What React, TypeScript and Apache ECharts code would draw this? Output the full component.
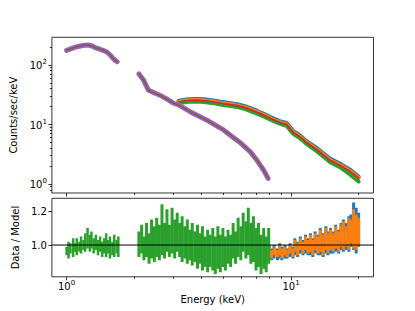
import React, { useEffect, useRef } from 'react';
import * as echarts from 'echarts';

// ---------- axis ranges & ticks ----------
const X_MIN = 0.86;
const X_MAX = 23.3;
const Y_MIN = 0.706;
const Y_MAX = 291;
const R_MIN = 0.813;
const R_MAX = 1.275;

const xMajorTicks = [1, 10];
const xMinorTicks = [2, 3, 4, 5, 6, 7, 8, 9, 20];
const yMajorTicks = [1, 10, 100];
const yMinorTicks = [0.8, 0.9, 2, 3, 4, 5, 6, 7, 8, 9, 20, 30, 40, 50, 60, 70, 80, 90, 200];
const rTicks = [1.0, 1.2];

// ---------- top panel: spectra ----------
// low-energy instrument (purple data, brown model)
const purpleLoE = [1.0, 1.05, 1.1, 1.15, 1.2, 1.25, 1.3, 1.35, 1.4, 1.45, 1.5, 1.55, 1.6, 1.65, 1.68];
const purpleLo = [176, 188, 200, 208, 214, 216, 208, 193, 185, 176, 168, 152, 132, 118, 113];
const purpleHiE = [2.1, 2.2, 2.31, 2.48, 2.65, 2.84, 3.0, 3.15, 3.55, 4.2, 5.0, 5.94, 6.57, 7.05, 7.54, 7.9];
const purpleHi = [70.7, 56, 38, 33.4, 30, 25.8, 22.7, 21.3, 16.4, 11.9, 8.1, 4.95, 3.5, 2.5, 1.72, 1.24];

// high-energy instruments (blue, orange, green data, red model)
const energiesHi = [3.15, 3.3, 3.5, 3.8, 4.1, 4.5, 4.85, 5.3, 5.75, 6.35, 7.05, 7.6, 8.1, 8.9, 9.55, 10.0, 10.25, 10.8, 11.2, 11.6, 13.1, 14.9, 16.75, 18.3, 20.0];
const blueSpec = [24.9, 25.8, 26.5, 26.8, 26.4, 25.3, 24.0, 22.9, 21.9, 19.8, 17.0, 15.0, 13.3, 11.4, 10.6, 8.6, 7.7, 6.8, 6.1, 5.4, 3.95, 2.67, 2.14, 1.74, 1.33];
const orangeSpec = [23.9, 24.8, 25.5, 25.7, 25.3, 24.3, 23.0, 22.0, 20.9, 18.9, 16.2, 14.4, 12.7, 10.9, 10.1, 8.2, 7.3, 6.5, 5.85, 5.15, 3.75, 2.53, 2.02, 1.64, 1.27];
const greenSpec = [22.4, 23.3, 24.0, 24.2, 23.8, 22.8, 21.6, 20.6, 19.7, 17.8, 15.2, 13.5, 12.0, 10.3, 9.5, 7.7, 6.9, 6.1, 5.5, 4.85, 3.5, 2.35, 1.85, 1.45, 1.1];
const redModel = [23.6, 24.5, 25.2, 25.4, 25.0, 24.0, 22.7, 21.7, 20.7, 18.7, 16.0, 14.2, 12.6, 10.8, 10.0, 8.1, 7.25, 6.4, 5.8, 5.1, 3.7, 2.5, 2.0, 1.62, 1.25];

// ---------- bottom panel: residuals (error-bar low / high) ----------
const resGreenE1 = [1.0, 1.02, 1.04, 1.07, 1.09, 1.11, 1.14, 1.16, 1.19, 1.21, 1.24, 1.27, 1.29, 1.32, 1.35, 1.38, 1.41, 1.44, 1.47, 1.5, 1.53, 1.56, 1.6, 1.63, 1.67, 1.7];
const resGreenHi1 = [0.99, 1.02, 1.01, 1.04, 1.01, 1.04, 1.02, 1.05, 1.03, 1.07, 1.1, 1.06, 1.08, 1.04, 1.06, 1.03, 1.05, 1.02, 1.04, 1.07, 1.03, 1.05, 1.02, 1.06, 1.03, 1.05];
const resGreenLo1 = [0.94, 0.92, 0.95, 0.93, 0.96, 0.94, 0.96, 0.95, 0.97, 0.96, 0.98, 0.96, 0.98, 0.95, 0.97, 0.94, 0.96, 0.93, 0.95, 0.93, 0.95, 0.92, 0.94, 0.93, 0.95, 0.93];

const resGreenE2 = [2.1, 2.16, 2.21, 2.27, 2.33, 2.39, 2.46, 2.52, 2.59, 2.66, 2.73, 2.8, 2.87, 2.95, 3.03, 3.11, 3.19, 3.27, 3.36, 3.45, 3.54, 3.63, 3.73, 3.83, 3.93, 4.03, 4.14, 4.25, 4.36, 4.48, 4.6, 4.72, 4.84, 4.97, 5.1, 5.24, 5.38, 5.52, 5.66, 5.81, 5.97, 6.12, 6.29, 6.45, 6.62, 6.8, 6.98, 7.16, 7.35, 7.55, 7.75, 7.95];
const resGreenHi2 = [1.08, 1.12, 1.05, 1.13, 1.07, 1.15, 1.11, 1.16, 1.12, 1.24, 1.13, 1.21, 1.12, 1.22, 1.15, 1.19, 1.13, 1.17, 1.11, 1.15, 1.09, 1.13, 1.08, 1.12, 1.07, 1.11, 1.05, 1.09, 1.06, 1.1, 1.05, 1.11, 1.06, 1.1, 1.05, 1.09, 1.06, 1.13, 1.08, 1.16, 1.11, 1.19, 1.14, 1.22, 1.13, 1.17, 1.1, 1.13, 1.06, 1.1, 1.05, 1.1];
const resGreenLo2 = [0.93, 0.95, 0.91, 0.93, 0.89, 0.92, 0.9, 0.93, 0.91, 0.94, 0.92, 0.96, 0.93, 0.95, 0.92, 0.96, 0.93, 0.9, 0.92, 0.89, 0.91, 0.88, 0.9, 0.86, 0.89, 0.85, 0.87, 0.84, 0.87, 0.85, 0.83, 0.86, 0.84, 0.87, 0.85, 0.89, 0.87, 0.92, 0.89, 0.93, 0.91, 0.96, 0.92, 0.94, 0.89, 0.9, 0.85, 0.87, 0.83, 0.86, 0.84, 0.89];

const resHiE = [8.0, 8.2, 8.4, 8.7, 8.9, 9.1, 9.4, 9.6, 9.9, 10.2, 10.4, 10.7, 11.0, 11.3, 11.6, 11.9, 12.2, 12.5, 12.8, 13.2, 13.5, 13.9, 14.3, 14.6, 15.0, 15.4, 15.8, 16.3, 16.7, 17.1, 17.6, 18.1, 18.5, 19.0, 19.5, 20.0];
const resOrangeHi = [0.99, 0.97, 0.99, 0.97, 1.0, 0.98, 0.99, 0.97, 1.0, 0.98, 1.03, 1.01, 1.04, 1.02, 1.05, 1.03, 1.06, 1.03, 1.07, 1.05, 1.09, 1.06, 1.1, 1.07, 1.09, 1.07, 1.11, 1.08, 1.12, 1.14, 1.11, 1.16, 1.15, 1.21, 1.18, 1.16];
const resOrangeLo = [0.94, 0.92, 0.94, 0.93, 0.94, 0.92, 0.94, 0.93, 0.95, 0.93, 0.96, 0.94, 0.97, 0.95, 0.97, 0.95, 0.96, 0.94, 0.97, 0.95, 0.96, 0.94, 0.97, 0.95, 0.97, 0.96, 0.98, 0.96, 0.99, 0.97, 0.99, 0.97, 1.01, 0.98, 0.97, 1.0];
const resBlueHi = [1.0, 0.98, 1.0, 0.98, 1.01, 0.99, 1.0, 0.98, 1.01, 0.99, 1.04, 1.02, 1.05, 1.03, 1.06, 1.04, 1.07, 1.04, 1.08, 1.06, 1.1, 1.07, 1.11, 1.08, 1.1, 1.08, 1.12, 1.09, 1.13, 1.15, 1.13, 1.17, 1.18, 1.25, 1.22, 1.19];
const resBlueLo = [0.93, 0.91, 0.92, 0.91, 0.92, 0.91, 0.92, 0.92, 0.93, 0.92, 0.94, 0.93, 0.95, 0.94, 0.95, 0.94, 0.94, 0.93, 0.95, 0.94, 0.94, 0.93, 0.95, 0.94, 0.95, 0.95, 0.96, 0.95, 0.97, 0.96, 0.97, 0.96, 0.99, 0.97, 0.95, 0.99];

// ---------- styling ----------
const FONT = 'DejaVu Sans';
const C = {
  blue: '#1f77b4',
  orange: '#ff7f0e',
  green: '#2ca02c',
  red: '#d62728',
  purple: '#9467bd',
  brown: '#8c564b',
};

const zip = (xs: number[], ys: number[]) => xs.map((x, i) => [x, ys[i]]);
const zip3 = (xs: number[], lo: number[], hi: number[]) => xs.map((x, i) => [x, lo[i], hi[i]]);
const log10 = (v: number[]) => v.map((t) => Math.log10(t));

const supLabel = (v: number) => `{b|10}{s|${Math.round(Math.log10(v))}}`;
const supRich = {
  b: { fontSize: 10, lineHeight: 12, padding: [2, 0, 0, 0], verticalAlign: 'bottom', color: '#000', fontFamily: FONT },
  s: { fontSize: 7, lineHeight: 9, verticalAlign: 'top', color: '#000', fontFamily: FONT },
};

const tickLine = { color: '#000', width: 0.8 };

function tickAxis(gridIndex: number, position: string, min: number, max: number, values: number[], length: number) {
  return {
    type: 'value',
    gridIndex,
    position,
    min,
    max,
    silent: true,
    axisLine: { show: false, onZero: false },
    axisLabel: { show: false },
    splitLine: { show: false },
    axisTick: { show: true, customValues: values, length, lineStyle: tickLine },
  };
}

function lineSeries(data: number[][], color: string, width: number, xi: number, yi: number) {
  return {
    type: 'line',
    xAxisIndex: xi,
    yAxisIndex: yi,
    data,
    symbol: 'none',
    silent: true,
    lineStyle: { color, width, cap: 'round', join: 'round' },
  };
}

function errSeries(data: number[][], color: string, width: number) {
  return {
    type: 'custom',
    xAxisIndex: 3,
    yAxisIndex: 3,
    silent: true,
    clip: true,
    encode: { x: 0, y: [1, 2] },
    data,
    renderItem: (_p: any, api: any) => {
      const x = api.value(0);
      const a = api.coord([x, api.value(1)]);
      const b = api.coord([x, api.value(2)]);
      return {
        type: 'line',
        shape: { x1: a[0], y1: a[1], x2: b[0], y2: b[1] },
        style: { stroke: color, lineWidth: width },
      };
    },
  };
}

export default function App() {
  const ref = useRef<HTMLDivElement>(null);

  useEffect(() => {
    if (!ref.current) return;
    const chart = echarts.init(ref.current, undefined, { renderer: 'svg' });

    const gridCommon = {
      left: 51.9,
      width: 321.6,
      show: true,
      borderColor: '#000',
      borderWidth: 0.8,
      containLabel: false,
      outerBoundsMode: 'none',
    };

    const option: any = {
      animation: false,
      textStyle: { fontFamily: FONT, color: '#000' },
      grid: [
        { ...gridCommon, top: 37.3, height: 155.7 },
        { ...gridCommon, top: 198.3, height: 78.5 },
      ],
      xAxis: [
        {
          type: 'log', logBase: 10, gridIndex: 0, position: 'bottom', min: X_MIN, max: X_MAX,
          axisLine: { show: false, onZero: false }, axisTick: { show: false },
          axisLabel: { show: false }, splitLine: { show: false },
        },
        tickAxis(0, 'bottom', Math.log10(X_MIN), Math.log10(X_MAX), log10(xMajorTicks), 3.5),
        tickAxis(0, 'bottom', Math.log10(X_MIN), Math.log10(X_MAX), log10(xMinorTicks), 2),
        {
          type: 'log', logBase: 10, gridIndex: 1, position: 'bottom', min: X_MIN, max: X_MAX,
          axisLine: { show: false, onZero: false }, axisTick: { show: false }, splitLine: { show: false },
          axisLabel: {
            show: true, margin: 3, showMinLabel: false, showMaxLabel: false,
            formatter: supLabel, rich: supRich,
          },
          name: 'Energy (keV)', nameLocation: 'middle', nameGap: 18,
          nameTextStyle: { fontSize: 10, color: '#000', fontFamily: FONT },
        },
        tickAxis(1, 'bottom', Math.log10(X_MIN), Math.log10(X_MAX), log10(xMajorTicks), 3.5),
        tickAxis(1, 'bottom', Math.log10(X_MIN), Math.log10(X_MAX), log10(xMinorTicks), 2),
      ],
      yAxis: [
        {
          type: 'log', logBase: 10, gridIndex: 0, position: 'left', min: Y_MIN, max: Y_MAX,
          axisLine: { show: false, onZero: false }, axisTick: { show: false }, splitLine: { show: false },
          axisLabel: {
            show: true, margin: 5, showMinLabel: false, showMaxLabel: false,
            formatter: supLabel, rich: supRich,
          },
          name: 'Counts/sec/keV', nameLocation: 'middle', nameGap: 30,
          nameTextStyle: { fontSize: 10, color: '#000', fontFamily: FONT },
        },
        tickAxis(0, 'left', Math.log10(Y_MIN), Math.log10(Y_MAX), log10(yMajorTicks), 3.5),
        tickAxis(0, 'left', Math.log10(Y_MIN), Math.log10(Y_MAX), log10(yMinorTicks), 2),
        {
          type: 'value', gridIndex: 1, position: 'left', min: R_MIN, max: R_MAX,
          axisLine: { show: false, onZero: false }, splitLine: { show: false },
          axisTick: { show: true, customValues: rTicks, length: 3.5, lineStyle: tickLine },
          axisLabel: {
            show: true, customValues: rTicks, margin: 5, fontSize: 10, color: '#000', fontFamily: FONT,
            formatter: (v: number) => v.toFixed(1),
          },
          name: 'Data / Model', nameLocation: 'middle', nameGap: 28.5,
          nameTextStyle: { fontSize: 10, color: '#000', fontFamily: FONT },
        },
      ],
      series: [
        // top panel
        lineSeries(zip(energiesHi, blueSpec), C.blue, 4, 0, 0),
        lineSeries(zip(energiesHi, orangeSpec), C.orange, 4, 0, 0),
        lineSeries(zip(energiesHi, greenSpec), C.green, 4, 0, 0),
        lineSeries(zip(energiesHi, redModel), C.red, 1.6, 0, 0),
        lineSeries(zip(purpleLoE, purpleLo), C.purple, 5, 0, 0),
        lineSeries(zip(purpleHiE, purpleHi), C.purple, 5, 0, 0),
        lineSeries(zip(purpleLoE, purpleLo), C.brown, 1.6, 0, 0),
        lineSeries(zip(purpleHiE, purpleHi), C.brown, 1.6, 0, 0),
        // bottom panel
        lineSeries([[X_MIN, 1], [X_MAX, 1]], '#000', 1, 3, 3),
        errSeries(zip3(resHiE, resBlueLo, resBlueHi), C.blue, 3),
        errSeries(zip3(resHiE, resOrangeLo, resOrangeHi), C.orange, 3),
        errSeries(zip3(resGreenE1, resGreenLo1, resGreenHi1), C.green, 2.5),
        errSeries(zip3(resGreenE2, resGreenLo2, resGreenHi2), C.green, 3),
      ],
    };

    chart.setOption(option);
    return () => chart.dispose();
  }, []);

  return (
    <div
      ref={ref}
      style={{ position: 'absolute', left: 0, top: 0, width: 415, height: 311, background: '#fff' }}
    />
  );
}
